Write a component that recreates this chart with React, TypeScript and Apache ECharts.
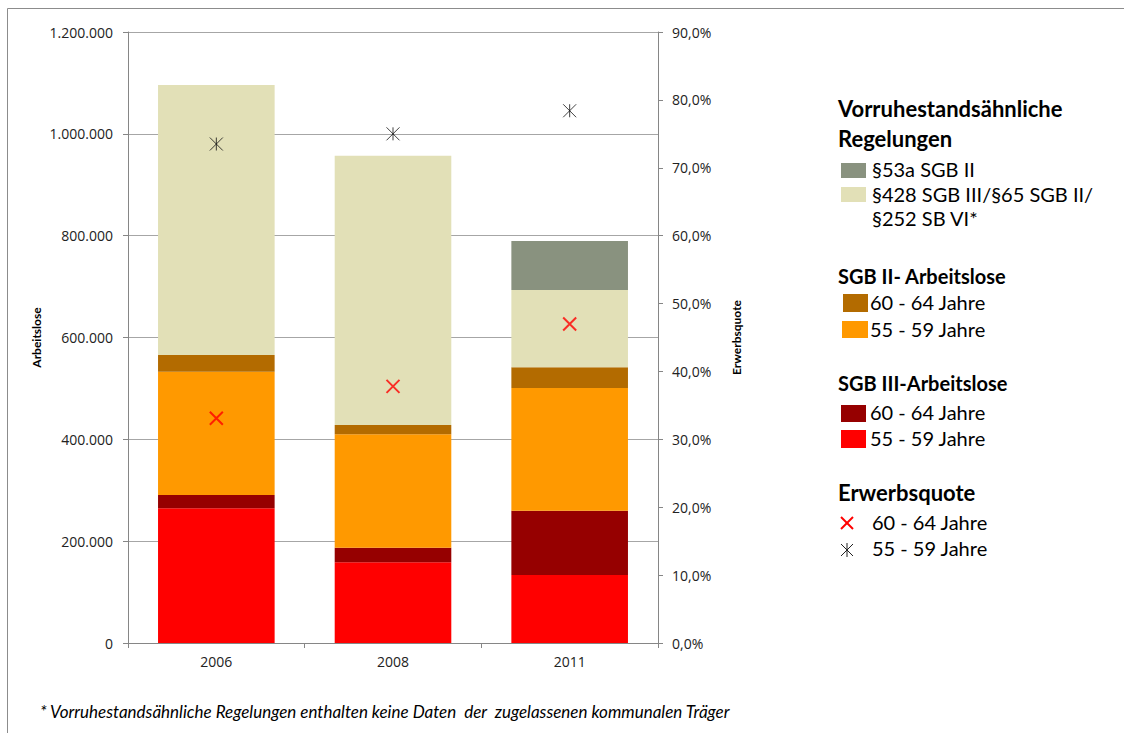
import React, { useEffect, useRef } from "react";
import * as echarts from "echarts";

const categories = ["2006", "2008", "2011"];
const sgb3_55_59 = [264600, 158500, 133600];
const sgb3_60_64 = [26100, 28700, 126200];
const sgb2_55_59 = [242100, 222700, 241000];
const sgb2_60_64 = [32800, 18300, 40700];
const vorruhe428 = [530300, 528900, 151800];
const vorruhe53a = [0, 0, 96200];
const quote60_64 = [33.1, 37.8, 47.0];
const quote55_59 = [73.5, 75.0, 78.4];

const leftMax = 1200000;
const leftInterval = 200000;
const rightMax = 90;
const rightInterval = 10;

const COLORS = {
  red: "#ff0000",
  darkred: "#960000",
  orange: "#ff9900",
  brown: "#b36b00",
  beige: "#e2e0b7",
  gray: "#89927f",
};

const FONT = "Lato";
const AXIS_FONT = "Open Sans";

const X_PATH = "path://M0,0L10,10M10,0L0,10";
const STAR_PATH = "path://M0,0L10,10M10,0L0,10M5,0L5,10";

function fmtThousands(v: number): string {
  return String(Math.round(v)).replace(/\B(?=(\d{3})+(?!\d))/g, ".");
}

export default function App() {
  const ref = useRef<HTMLDivElement>(null);

  useEffect(() => {
    if (!ref.current) return;
    const chart = echarts.init(ref.current, undefined, { renderer: "svg" });

    const barBase = {
      type: "bar" as const,
      stack: "total",
      barWidth: "66%",
      yAxisIndex: 0,
    };

    const legendText = (text: string, x: number, y: number, bold = false, size = 20) => ({
      type: "text",
      x,
      y,
      style: {
        text,
        fill: "#000",
        font: `${bold ? "bold " : ""}${size}px ${FONT}`,
        align: "left",
        verticalAlign: "middle",
      },
    });
    const legendRect = (x: number, y: number, w: number, h: number, color: string) => ({
      type: "rect",
      shape: { x, y, width: w, height: h },
      style: { fill: color },
    });
    const line = (x1: number, y1: number, x2: number, y2: number, color: string, w: number) => ({
      type: "line",
      shape: { x1, y1, x2, y2 },
      style: { stroke: color, lineWidth: w },
    });

    const graphic: any[] = [
      {
        type: "rect",
        shape: { x: 7.5, y: 8.5, width: 1300, height: 900 },
        style: { fill: "none", stroke: "#8c8c8c", lineWidth: 1 },
        silent: true,
      },
      legendText("Vorruhestandsähnliche", 838, 108, true, 22),
      legendText("Regelungen", 838, 138, true, 22),
      legendRect(841, 163, 25, 15, COLORS.gray),
      legendText("§53a SGB II", 872, 169),
      legendRect(841, 187, 25, 15, COLORS.beige),
      legendText("§428 SGB III/§65 SGB II/", 872, 194),
      legendText("§252 SB VI*", 872, 218),
      legendText("SGB II- Arbeitslose", 838, 276, true, 20),
      legendRect(843, 294, 25, 18, COLORS.brown),
      legendText("60 - 64 Jahre", 870, 302),
      legendRect(842, 321, 26, 17, COLORS.orange),
      legendText("55 - 59 Jahre", 870, 329),
      legendText("SGB III-Arbeitslose", 838, 383, true, 20),
      legendRect(841, 405, 25, 17, COLORS.darkred),
      legendText("60 - 64 Jahre", 870, 412),
      legendRect(841, 430, 25, 18, COLORS.red),
      legendText("55 - 59 Jahre", 870, 438),
      legendText("Erwerbsquote", 838, 492, true, 22),
      line(841, 517, 853, 529, "#ff0000", 2),
      line(853, 517, 841, 529, "#ff0000", 2),
      legendText("60 - 64 Jahre", 872, 522),
      line(841, 544, 853, 556, "#222", 1),
      line(853, 544, 841, 556, "#222", 1),
      line(847, 543, 847, 557, "#222", 1),
      legendText("55 - 59 Jahre", 872, 548),
      {
        type: "text",
        x: 40,
        y: 711,
        style: {
          text: "* Vorruhestandsähnliche Regelungen enthalten keine Daten  der  zugelassenen kommunalen Träger",
          fill: "#000",
          font: `italic 17px ${FONT}`,
          align: "left",
          verticalAlign: "middle",
        },
      },
    ];

    chart.setOption({
      animation: false,
      backgroundColor: "#ffffff",
      grid: { left: 128, right: 466, top: 32, bottom: 90, containLabel: false },
      xAxis: {
        type: "category",
        data: categories,
        boundaryGap: true,
        axisLine: { show: true, lineStyle: { color: "#868686", width: 1 } },
        axisTick: { show: true, alignWithLabel: false, length: 5, lineStyle: { color: "#868686" } },
        axisLabel: { color: "#222", fontFamily: AXIS_FONT, fontSize: 14, margin: 11 },
      },
      yAxis: [
        {
          type: "value",
          min: 0,
          max: leftMax,
          interval: leftInterval,
          name: "Arbeitslose",
          nameLocation: "middle",
          nameGap: 86,
          nameRotate: 90,
          nameTextStyle: { color: "#000", fontFamily: FONT, fontWeight: "bold", fontSize: 12 },
          axisLine: { show: true, lineStyle: { color: "#868686", width: 1 } },
          axisTick: { show: true, length: 5, lineStyle: { color: "#868686" } },
          splitLine: { show: true, lineStyle: { color: "#a6a6a6", width: 1 } },
          axisLabel: {
            color: "#222",
            fontFamily: AXIS_FONT,
            fontSize: 14,
            margin: 15,
            formatter: (v: number) => fmtThousands(v),
          },
        },
        {
          type: "value",
          min: 0,
          max: rightMax,
          interval: rightInterval,
          position: "right",
          name: "Erwerbsquote",
          nameLocation: "middle",
          nameGap: 72,
          nameRotate: 90,
          nameTextStyle: { color: "#000", fontFamily: FONT, fontWeight: "bold", fontSize: 12 },
          axisLine: { show: true, lineStyle: { color: "#868686", width: 1 } },
          axisTick: { show: true, length: 5, lineStyle: { color: "#868686" } },
          splitLine: { show: false },
          axisLabel: {
            color: "#222",
            fontFamily: AXIS_FONT,
            fontSize: 14,
            margin: 14,
            formatter: (v: number) => v.toFixed(1).replace(".", ",") + "%",
          },
        },
      ],
      series: [
        { ...barBase, name: "SGB III 55 - 59 Jahre", data: sgb3_55_59, itemStyle: { color: COLORS.red } },
        { ...barBase, name: "SGB III 60 - 64 Jahre", data: sgb3_60_64, itemStyle: { color: COLORS.darkred } },
        { ...barBase, name: "SGB II 55 - 59 Jahre", data: sgb2_55_59, itemStyle: { color: COLORS.orange } },
        { ...barBase, name: "SGB II 60 - 64 Jahre", data: sgb2_60_64, itemStyle: { color: COLORS.brown } },
        { ...barBase, name: "§428 SGB III/§65 SGB II/§252 SB VI*", data: vorruhe428, itemStyle: { color: COLORS.beige } },
        { ...barBase, name: "§53a SGB II", data: vorruhe53a, itemStyle: { color: COLORS.gray } },
        {
          type: "scatter",
          name: "Erwerbsquote 60 - 64 Jahre",
          yAxisIndex: 1,
          data: quote60_64,
          symbol: X_PATH,
          symbolSize: 13,
          itemStyle: { color: "transparent", borderColor: "#ff0000", borderWidth: 2 },
          z: 5,
        },
        {
          type: "scatter",
          name: "Erwerbsquote 55 - 59 Jahre",
          yAxisIndex: 1,
          data: quote55_59,
          symbol: STAR_PATH,
          symbolSize: 13,
          itemStyle: { color: "transparent", borderColor: "#111", borderWidth: 1 },
          z: 5,
        },
      ],
      graphic,
    });

    return () => chart.dispose();
  }, []);

  return (
    <div
      ref={ref}
      style={{ position: "fixed", left: 0, top: 0, width: 1124, height: 733, background: "#fff" }}
    />
  );
}
